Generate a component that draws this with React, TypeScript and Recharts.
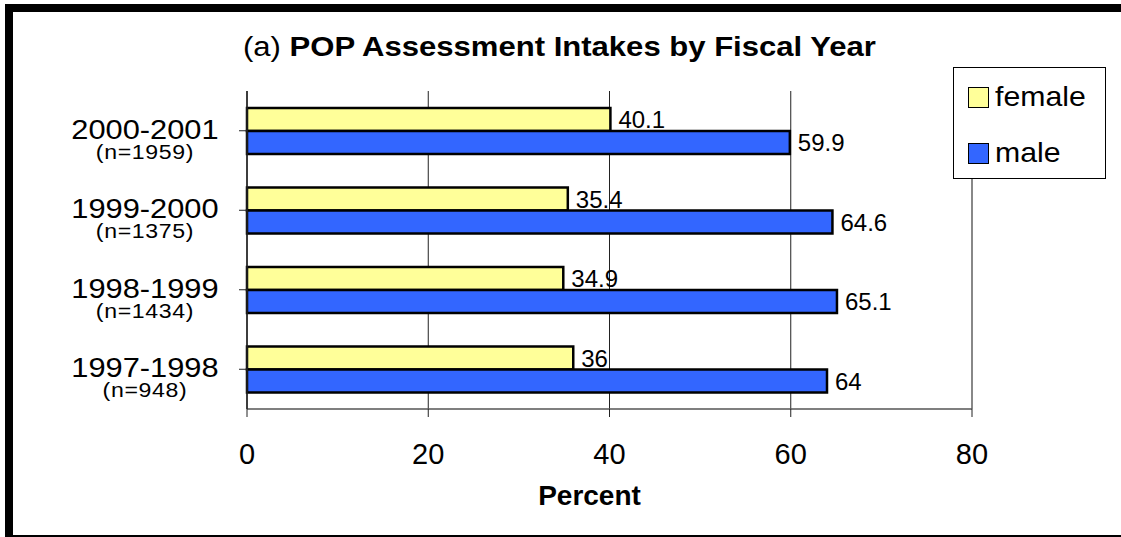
import React from 'react';
import { BarChart, Bar, XAxis, YAxis, CartesianGrid, LabelList, ReferenceLine } from 'recharts';

const years = ['2000-2001', '1999-2000', '1998-1999', '1997-1998'];
const counts = ['(n=1959)', '(n=1375)', '(n=1434)', '(n=948)'];
const female = [40.1, 35.4, 34.9, 36];
const male = [59.9, 64.6, 65.1, 64];
const xTicks = [0, 20, 40, 60, 80];
const legendItems = [
  { name: 'female', color: '#FFFF99' },
  { name: 'male', color: '#3366FF' },
];

const data = years.map((y, i) => ({ year: y, n: counts[i], female: female[i], male: male[i] }));

const FONT = '"Liberation Sans", Arial, sans-serif';

// the source picture is a bit stretched sideways, so text gets widened around its centre
const widen = (cx: number, k: number) => `translate(${cx},0) scale(${k},1) translate(${-cx},0)`;

const YearTick = (props: any) => {
  const { x, y, payload, index } = props;
  const cx = x - 94;
  return (
    <text x={cx} y={y + 8} textAnchor="middle" fontFamily={FONT} fill="#000" transform={widen(cx, 1.1)}>
      <tspan x={cx} fontSize={28}>{payload.value}</tspan>
      <tspan x={cx} dy={20} fontSize={21} letterSpacing={0.6}>{counts[index]}</tspan>
    </text>
  );
};

const LegendBox = () => (
  <div style={{ position: 'absolute', left: 953, top: 67, width: 151, height: 110, border: '1px solid #000', background: '#fff', fontFamily: FONT, fontSize: 28, color: '#000' }}>
    {legendItems.map((e, i) => (
      <div key={e.name} style={{ position: 'absolute', left: 14, top: i === 0 ? 13 : 69, display: 'flex', alignItems: 'center', height: 32 }}>
        <span style={{ display: 'inline-block', width: 19, height: 19, background: e.color, border: '1.5px solid #000', marginRight: 6 }} />
        <span style={{ lineHeight: '32px', display: 'inline-block', transform: 'scaleX(1.08)', transformOrigin: 'left' }}>{e.name}</span>
      </div>
    ))}
  </div>
);

export default function App() {
  return (
    <div style={{ position: 'absolute', left: 0, top: 0, width: 1121, height: 537, background: '#fff' }}>
      <div style={{ position: 'absolute', left: 5, top: 4, width: 1116, height: 8, background: '#000' }} />
      <div style={{ position: 'absolute', left: 5, top: 4, width: 8, height: 533, background: '#000' }} />
      <div style={{ position: 'absolute', left: 13, top: 535, width: 1108, height: 2, background: '#000' }} />
      <div style={{ position: 'absolute', left: 243, top: 31, fontFamily: FONT, fontSize: 27, color: '#000', whiteSpace: 'nowrap', lineHeight: '32px', transform: 'scaleX(1.15)', transformOrigin: 'left' }}>
        (a) <b>POP Assessment Intakes by Fiscal Year</b>
      </div>
      <BarChart
        width={1121}
        height={537}
        data={data}
        layout="vertical"
        margin={{ top: 91, right: 149, bottom: 32, left: 7 }}
        barGap={0}
        barSize={23}
        style={{ position: 'absolute', left: 0, top: 0 }}
      >
        <CartesianGrid horizontal={false} stroke="#222" strokeWidth={1} />
        <XAxis
          type="number"
          domain={[0, 80]}
          ticks={xTicks}
          tickSize={8}
          tickMargin={26}
          tick={{ fontSize: 29, fontFamily: FONT, fill: '#000' }}
          axisLine={{ stroke: '#555', strokeWidth: 1.5 }}
          tickLine={{ stroke: '#222' }}
          height={96}
          label={{ value: 'Percent', position: 'insideBottom', offset: 0, dx: -20, fontSize: 28, fontWeight: 'bold', fontFamily: FONT, fill: '#000' }}
        />
        <XAxis xAxisId="top" type="number" domain={[0, 80]} orientation="top" height={0} tick={false} tickLine={false} axisLine={{ stroke: '#888', strokeWidth: 1.5 }} />
        <YAxis
          type="category"
          dataKey="year"
          width={240}
          tickSize={8}
          tickMargin={0}
          tick={<YearTick />}
          axisLine={{ stroke: '#222', strokeWidth: 1.5 }}
          tickLine={{ stroke: '#222' }}
          interval={0}
        />
        <ReferenceLine x={80} stroke="#888" strokeWidth={2} />
        <Bar dataKey="female" name="female" fill="#FFFF99" stroke="#000" strokeWidth={2.5} isAnimationActive={false}>
          <LabelList dataKey="female" position="right" offset={8} fontSize={24} fontFamily={FONT} fill="#000" />
        </Bar>
        <Bar dataKey="male" name="male" fill="#3366FF" stroke="#000" strokeWidth={2.5} isAnimationActive={false}>
          <LabelList dataKey="male" position="right" offset={8} fontSize={24} fontFamily={FONT} fill="#000" />
        </Bar>
      </BarChart>
      <LegendBox />
    </div>
  );
}
